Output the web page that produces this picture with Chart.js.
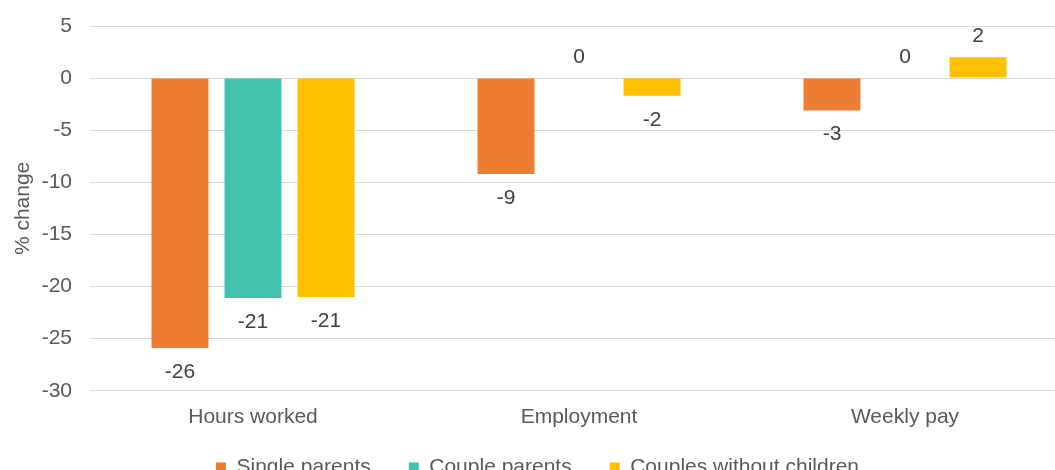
<!DOCTYPE html>
<html>
<head>
<meta charset="utf-8">
<script src="https://cdn.jsdelivr.net/npm/chart.js@4.4.1/dist/chart.umd.min.js"></script>
<style>
  html, body { margin: 0; padding: 0; overflow: hidden; background: #ffffff; }
  #wrap { position: absolute; left: 0; top: 0; width: 1075px; height: 513px; }
</style>
</head>
<body>
<div id="wrap"><canvas id="c"></canvas></div>
<script>
const categories = ['Hours worked', 'Employment', 'Weekly pay'];
const seriesNames = ['Single parents', 'Couple parents', 'Couples without children'];
const singleParents = [-25.9, -9.2, -3.1];
const coupleParents = [-21.1, 0, 0];
const couplesWithoutChildren = [-21.0, -1.7, 2.0];
const yTickMin = -30;
const yTickMax = 5;
const yTickStep = 5;
const yAxisTitle = '% change';

const FONT = "'Liberation Sans', Arial, sans-serif";
const colors = ['#ED7D31', '#42C2AC', '#FFC000'];
const seriesValues = [singleParents, coupleParents, couplesWithoutChildren];

const valueLabels = {
  id: 'valueLabels',
  afterDatasetsDraw(chart) {
    const ctx = chart.ctx;
    ctx.save();
    ctx.font = '21px ' + FONT;
    ctx.fillStyle = '#404040';
    ctx.textAlign = 'center';
    ctx.textBaseline = 'middle';
    chart.data.datasets.forEach((ds, di) => {
      const meta = chart.getDatasetMeta(di);
      meta.data.forEach((el, i) => {
        const v = ds.data[i];
        const txt = String(Math.round(v) === 0 ? 0 : Math.round(v));
        const y = v < 0 ? el.y + 24 : el.y - 21;
        ctx.fillText(txt, el.x, y);
      });
    });
    ctx.restore();
  }
};

const legendShift = {
  id: 'legendShift',
  afterLayout(chart) {
    const lg = chart.legend;
    if (lg) { lg.top -= 25; lg.bottom -= 25; }
  }
};

new Chart(document.getElementById('c'), {
  type: 'bar',
  data: {
    labels: categories,
    datasets: seriesNames.map((name, i) => ({
      label: name,
      data: seriesValues[i],
      backgroundColor: colors[i],
      borderWidth: 0,
      categoryPercentage: 0.672,
      barPercentage: 0.78
    }))
  },
  options: {
    responsive: true,
    maintainAspectRatio: false,
    animation: false,
    layout: { padding: { left: 7, right: 7, top: 26, bottom: 0 } },
    plugins: {
      tooltip: { enabled: false },
      legend: {
        position: 'bottom',
        labels: {
          boxWidth: 10,
          boxHeight: 10,
          padding: 38,
          color: '#595959',
          font: { family: FONT, size: 21 }
        }
      }
    },
    scales: {
      x: {
        grid: { display: false, drawTicks: false },
        border: { display: false },
        ticks: { color: '#595959', padding: 14, font: { family: FONT, size: 21 } }
      },
      y: {
        min: yTickMin,
        max: yTickMax,
        afterFit(scale) { scale.width = 83; scale.paddingTop = 0; scale.paddingBottom = 0; },
        grid: { color: '#D9D9D9', lineWidth: 1, drawTicks: false },
        border: { display: false },
        ticks: { stepSize: yTickStep, color: '#595959', padding: 18, font: { family: FONT, size: 21 } },
        title: { display: true, text: yAxisTitle, color: '#595959', font: { family: FONT, size: 21 }, padding: { top: 4, bottom: 4 } }
      }
    }
  },
  plugins: [valueLabels, legendShift]
});
</script>
</body>
</html>
